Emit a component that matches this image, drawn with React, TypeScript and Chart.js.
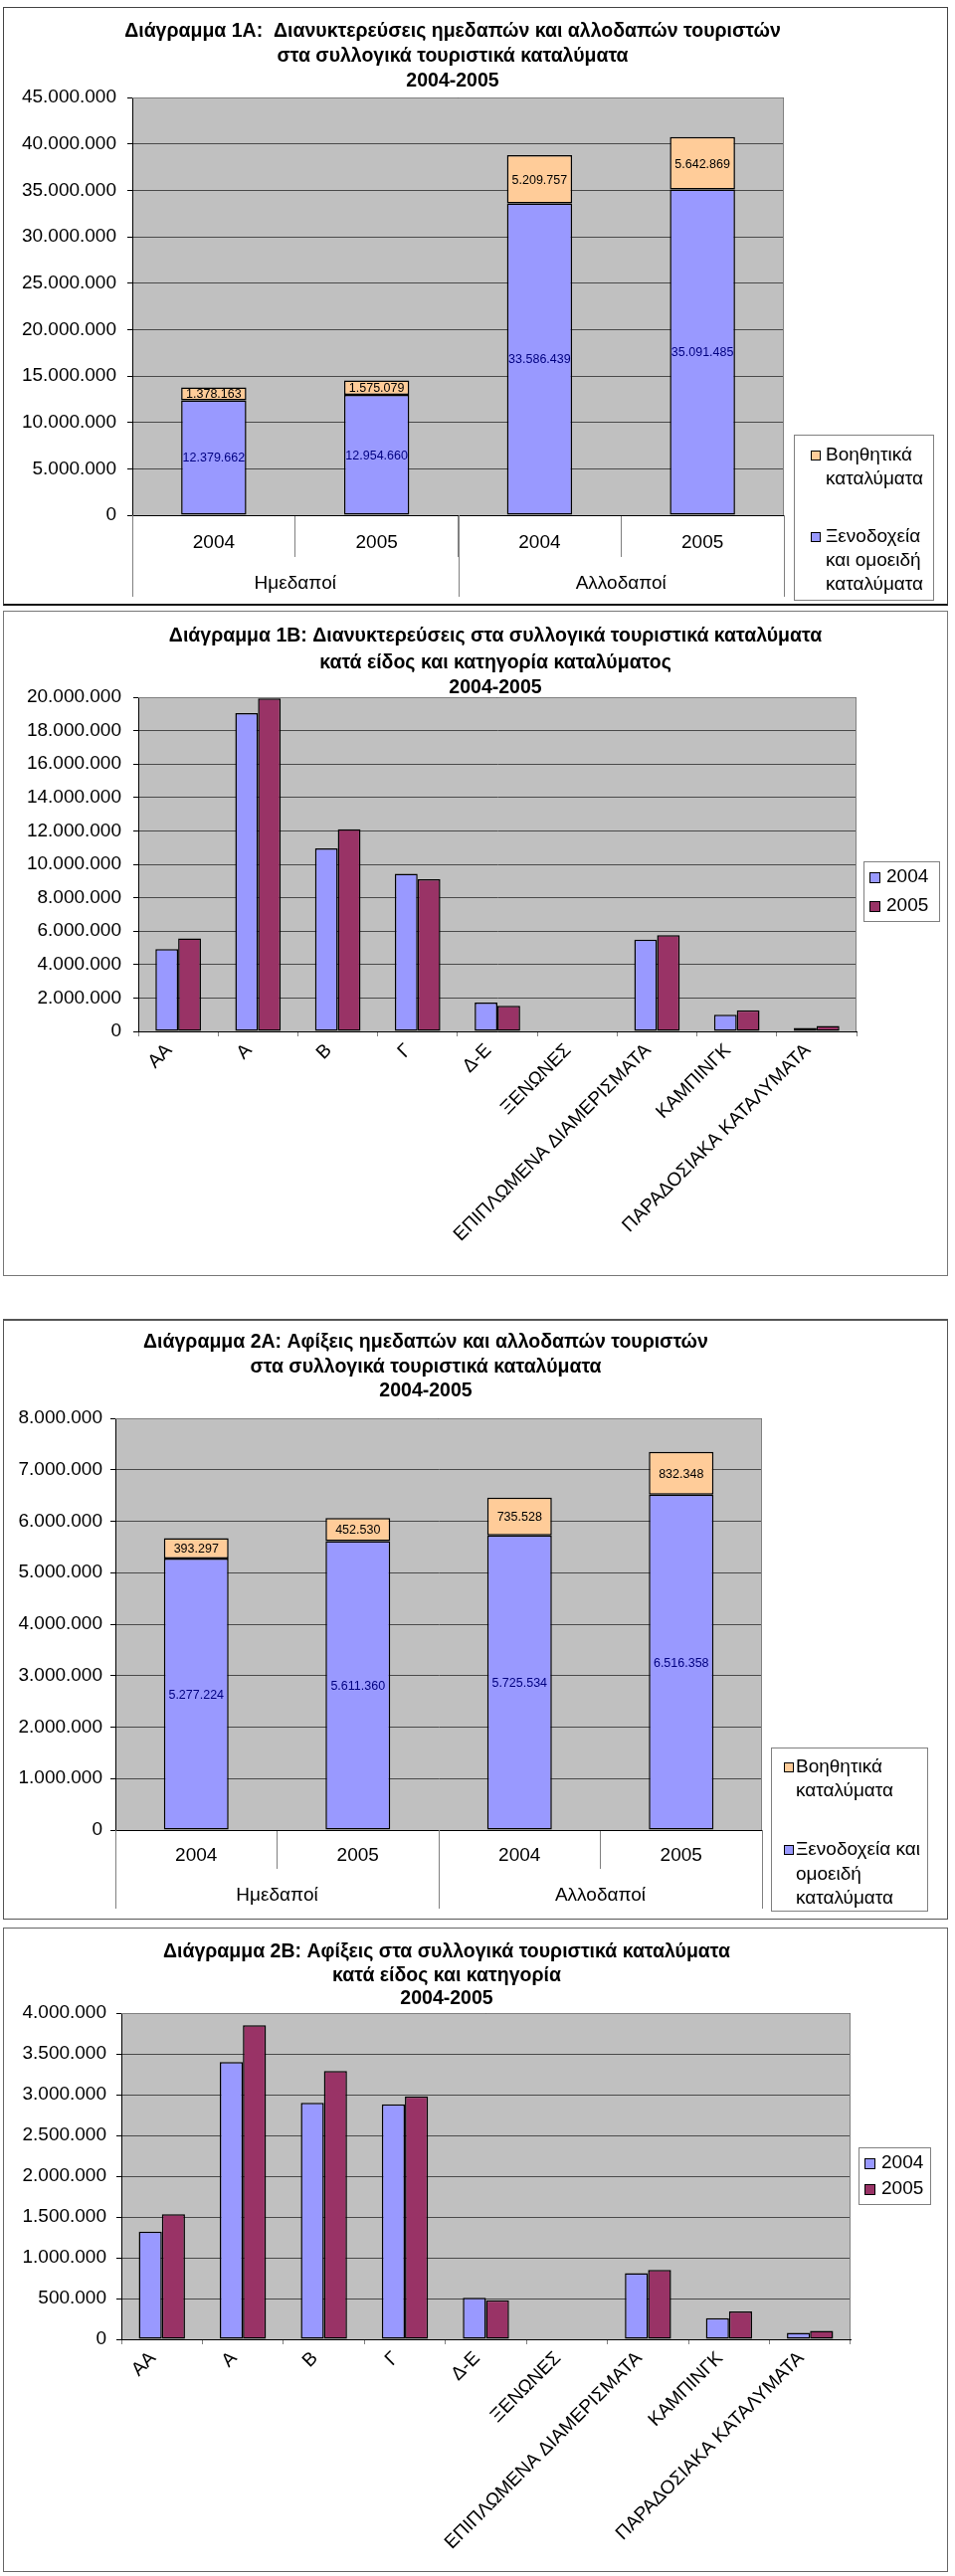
import React, { useEffect, useRef } from 'react';
import { Chart, registerables } from 'chart.js';

Chart.register(...registerables);

const FONT = "'Liberation Sans', Arial, Helvetica, sans-serif";
Chart.defaults.font.family = FONT;
Chart.defaults.color = '#000';

// ---------- data ----------
const yearLabels = ['2004', '2005', '2004', '2005'];
const groupLabels = ['Ημεδαποί', 'Αλλοδαποί'];

const overnightHotels = [12379662, 12954660, 33586439, 35091485];
const overnightAux = [1378163, 1575079, 5209757, 5642869];

const arrivalsHotels = [5277224, 5611360, 5725534, 6516358];
const arrivalsAux = [393297, 452530, 735528, 832348];

const categories = [
  'ΑΑ',
  'Α',
  'Β',
  'Γ',
  'Δ-Ε',
  'ΞΕΝΩΝΕΣ',
  'ΕΠΙΠΛΩΜΕΝΑ ΔΙΑΜΕΡΙΣΜΑΤΑ',
  'ΚΑΜΠΙΝΓΚ',
  'ΠΑΡΑΔΟΣΙΑΚΑ ΚΑΤΑΛΥΜΑΤΑ',
];
const overnight2004 = [4930000, 19050000, 10950000, 9440000, 1720000, 0, 5490000, 1000000, 210000];
const overnight2005 = [5570000, 19920000, 12100000, 9100000, 1540000, 0, 5760000, 1270000, 320000];
const arrivals2004 = [1320000, 3400000, 2900000, 2880000, 510000, 0, 810000, 260000, 80000];
const arrivals2005 = [1535000, 3850000, 3290000, 2980000, 480000, 0, 850000, 340000, 105000];

const title1A = ['Διάγραμμα 1Α:  Διανυκτερεύσεις ημεδαπών και αλλοδαπών τουριστών', 'στα συλλογικά τουριστικά καταλύματα', '2004-2005'];
const title1B = ['Διάγραμμα 1Β: Διανυκτερεύσεις στα συλλογικά τουριστικά καταλύματα', 'κατά είδος και κατηγορία καταλύματος', '2004-2005'];
const title2A = ['Διάγραμμα 2Α: Αφίξεις ημεδαπών και αλλοδαπών τουριστών', 'στα συλλογικά τουριστικά καταλύματα', '2004-2005'];
const title2B = ['Διάγραμμα 2Β: Αφίξεις στα συλλογικά τουριστικά καταλύματα', 'κατά είδος και κατηγορία', '2004-2005'];

const auxLegend = ['Βοηθητικά', 'καταλύματα'];
const hotelLegend1 = ['Ξενοδοχεία', 'και ομοειδή', 'καταλύματα'];
const hotelLegend2 = ['Ξενοδοχεία και', 'ομοειδή', 'καταλύματα'];
const yearSeries = ['2004', '2005'];

// ---------- styles ----------
const BLUE = '#9999FF';
const ORANGE = '#FFCC99';
const PLUM = '#993366';
const PLOT_BG = '#C0C0C0';
const TITLE_SIZE = 19.5;

const fmt = (n: number) => Math.round(n).toString().replace(/\B(?=(\d{3})+(?!\d))/g, '.');

type LegendItem = { color: string; lines: string[]; ys: number[] };
type Decor = {
  title: { lines: string[]; x: number; ys: number[]; size: number };
  legend: { box: [number, number, number, number]; sq: number; sqX: number; textX: number; items: LegendItem[] };
  groups?: { labels: string[]; yearY: number; groupY: number; longLen: number };
  dataLabels?: string[];
};

function makeDecor(d: Decor) {
  return {
    id: 'decor',
    beforeDraw(chart: any) {
      const { ctx, chartArea: a } = chart;
      ctx.save();
      ctx.fillStyle = PLOT_BG;
      ctx.fillRect(a.left, a.top, a.right - a.left, a.bottom - a.top);
      ctx.restore();
    },
    afterDatasetsDraw(chart: any) {
      if (!d.dataLabels) return;
      const { ctx } = chart;
      ctx.save();
      ctx.font = `12.5px ${FONT}`;
      ctx.textAlign = 'center';
      ctx.textBaseline = 'middle';
      chart.data.datasets.forEach((ds: any, i: number) => {
        const meta = chart.getDatasetMeta(i);
        meta.data.forEach((el: any, j: number) => {
          const p = el.getProps(['x', 'y', 'base'], true);
          ctx.fillStyle = d.dataLabels![i];
          ctx.fillText(fmt(ds.data[j]), p.x, (p.y + p.base) / 2 + 1);
        });
      });
      ctx.restore();
    },
    afterDraw(chart: any) {
      const { ctx, chartArea: a } = chart;
      ctx.save();
      // plot border (top & right)
      ctx.strokeStyle = '#808080';
      ctx.lineWidth = 1;
      ctx.beginPath();
      ctx.moveTo(a.left, a.top + 0.5);
      ctx.lineTo(a.right - 0.5, a.top + 0.5);
      ctx.lineTo(a.right - 0.5, a.bottom);
      ctx.stroke();

      // title
      ctx.fillStyle = '#000';
      ctx.font = `bold ${d.title.size}px ${FONT}`;
      ctx.textAlign = 'center';
      ctx.textBaseline = 'middle';
      d.title.lines.forEach((t, i) => ctx.fillText(t, d.title.x, d.title.ys[i]));

      // two-level category labels
      if (d.groups) {
        const xs = chart.scales.x;
        const n = chart.data.labels.length;
        ctx.font = `19px ${FONT}`;
        for (let i = 0; i < n; i++) {
          ctx.fillText(chart.data.labels[i], xs.getPixelForTick(i), d.groups.yearY);
        }
        d.groups.labels.forEach((g, k) => {
          const cx = (xs.getPixelForTick(2 * k) + xs.getPixelForTick(2 * k + 1)) / 2;
          ctx.fillText(g, cx, d.groups!.groupY);
        });
        const mid = (xs.getPixelForTick(1) + xs.getPixelForTick(2)) / 2;
        ctx.strokeStyle = '#808080';
        ctx.beginPath();
        [a.left, mid, a.right].forEach((px) => {
          const x = Math.round(px) + 0.5;
          ctx.moveTo(x, a.bottom);
          ctx.lineTo(x, a.bottom + d.groups!.longLen);
        });
        ctx.stroke();
      }

      // legend
      const L = d.legend;
      ctx.strokeStyle = '#808080';
      ctx.lineWidth = 1;
      ctx.strokeRect(L.box[0] + 0.5, L.box[1] + 0.5, L.box[2], L.box[3]);
      ctx.font = `19px ${FONT}`;
      ctx.textAlign = 'left';
      ctx.textBaseline = 'middle';
      L.items.forEach((it) => {
        const y0 = it.ys[0];
        ctx.fillStyle = it.color;
        ctx.fillRect(L.sqX, Math.round(y0 - L.sq / 2), L.sq, L.sq);
        ctx.strokeStyle = '#000';
        ctx.strokeRect(L.sqX + 0.5, Math.round(y0 - L.sq / 2) + 0.5, L.sq - 1, L.sq - 1);
        ctx.fillStyle = '#000';
        it.lines.forEach((t, i) => ctx.fillText(t, L.textX, it.ys[i]));
      });
      ctx.restore();
    },
  };
}

type Geo = { w: number; h: number; left: number; right: number; top: number; bottom: number };

function yAxis(max: number, step: number, pad: number, width: number, stacked: boolean) {
  return {
    stacked,
    min: 0,
    max,
    ticks: { stepSize: step, callback: (v: any) => fmt(Number(v)), font: { size: 19 }, color: '#000', padding: pad },
    grid: { color: '#4a4a4a', tickColor: '#000', tickLength: 5, lineWidth: 1 },
    border: { display: true, color: '#000', width: 1 },
    afterFit: (s: any) => {
      s.width = width;
    },
  };
}

function stackedConfig(g: Geo, hotels: number[], aux: number[], max: number, step: number, yPad: number, tickLen: number, decor: Decor) {
  return {
    type: 'bar' as const,
    data: {
      labels: yearLabels,
      datasets: [
        { label: 'Ξενοδοχεία και ομοειδή καταλύματα', data: hotels, backgroundColor: BLUE, borderColor: '#000', borderWidth: 1.5, borderSkipped: false, barPercentage: 0.4, categoryPercentage: 1 },
        { label: 'Βοηθητικά καταλύματα', data: aux, backgroundColor: ORANGE, borderColor: '#000', borderWidth: 1.5, borderSkipped: false, barPercentage: 0.4, categoryPercentage: 1 },
      ],
    },
    options: {
      animation: false as const,
      responsive: false,
      maintainAspectRatio: false,
      layout: { padding: { left: 0, right: g.w - g.right, top: g.top, bottom: 0 } },
      plugins: { legend: { display: false }, title: { display: false }, tooltip: { enabled: false } },
      scales: {
        x: {
          stacked: true,
          ticks: { display: false },
          grid: { offset: true, drawOnChartArea: false, tickLength: tickLen, color: '#808080', tickColor: '#808080' },
          border: { display: true, color: '#000', width: 1 },
          afterFit: (s: any) => {
            s.height = g.h - g.bottom;
          },
        },
        y: yAxis(max, step, yPad, g.left, true),
      },
    },
    plugins: [makeDecor(decor)],
  };
}

function groupedConfig(g: Geo, s2004: number[], s2005: number[], max: number, step: number, yPad: number, decor: Decor) {
  return {
    type: 'bar' as const,
    data: {
      labels: categories,
      datasets: [
        { label: '2004', data: s2004, backgroundColor: BLUE, borderColor: '#000', borderWidth: 1.5, borderSkipped: false, barPercentage: 1, categoryPercentage: 0.57 },
        { label: '2005', data: s2005, backgroundColor: PLUM, borderColor: '#000', borderWidth: 1.5, borderSkipped: false, barPercentage: 1, categoryPercentage: 0.57 },
      ],
    },
    options: {
      animation: false as const,
      responsive: false,
      maintainAspectRatio: false,
      layout: { padding: { left: 0, right: g.w - g.right, top: g.top, bottom: 0 } },
      plugins: { legend: { display: false }, title: { display: false }, tooltip: { enabled: false } },
      scales: {
        x: {
          ticks: { autoSkip: false, minRotation: 45, maxRotation: 45, font: { size: 19 }, color: '#000', padding: 3, labelOffset: -9 },
          grid: { offset: true, drawOnChartArea: false, tickLength: 5, color: '#808080', tickColor: '#808080' },
          border: { display: true, color: '#000', width: 1 },
          afterFit: (s: any) => {
            s.height = g.h - g.bottom;
          },
        },
        y: yAxis(max, step, yPad, g.left, false),
      },
    },
    plugins: [makeDecor(decor)],
  };
}

function ChartBox({ rect, frame, build }: { rect: [number, number, number, number]; frame: React.CSSProperties; build: () => any }) {
  const ref = useRef<HTMLCanvasElement>(null);
  useEffect(() => {
    const chart = new Chart(ref.current as HTMLCanvasElement, build());
    return () => chart.destroy();
  }, []);
  const [x, y, w, h] = rect;
  return (
    <>
      <div style={{ position: 'absolute', left: x, top: y, width: w, height: h, boxSizing: 'border-box', ...frame }} />
      <canvas ref={ref} width={w} height={h} style={{ position: 'absolute', left: x, top: y, width: w, height: h }} />
    </>
  );
}

export default function App() {
  const g1A: Geo = { w: 950, h: 602, left: 130, right: 785, top: 91, bottom: 511 };
  const g1B: Geo = { w: 950, h: 669, left: 136, right: 858, top: 87, bottom: 423 };
  const g2A: Geo = { w: 950, h: 604, left: 113, right: 763, top: 100, bottom: 514 };
  const g2B: Geo = { w: 950, h: 648, left: 119, right: 852, top: 86, bottom: 414 };

  return (
    <div style={{ position: 'absolute', left: 0, top: 0, width: 960, height: 2590, background: '#fff', fontFamily: FONT }}>
      <ChartBox
        rect={[3, 7, 950, 602]}
        frame={{ border: '1px solid #444', borderBottom: '2px solid #111' }}
        build={() =>
          stackedConfig(g1A, overnightHotels, overnightAux, 45000000, 5000000, 11, 42, {
            title: { lines: title1A, x: 452, ys: [25, 50, 75], size: TITLE_SIZE },
            legend: {
              box: [795, 430, 140, 166],
              sq: 10,
              sqX: 812,
              textX: 827,
              items: [
                { color: ORANGE, lines: auxLegend, ys: [451, 475] },
                { color: BLUE, lines: hotelLegend1, ys: [533, 557, 581] },
              ],
            },
            groups: { labels: groupLabels, yearY: 539, groupY: 580, longLen: 82 },
            dataLabels: ['#000080', '#000'],
          })
        }
      />
      <ChartBox
        rect={[3, 614, 950, 669]}
        frame={{ border: '1px solid #777' }}
        build={() =>
          groupedConfig(g1B, overnight2004, overnight2005, 20000000, 2000000, 12, {
            title: { lines: title1B, x: 495, ys: [26, 53, 78], size: TITLE_SIZE },
            legend: {
              box: [865, 252, 76, 60],
              sq: 11,
              sqX: 871,
              textX: 888,
              items: [
                { color: BLUE, lines: [yearSeries[0]], ys: [268] },
                { color: PLUM, lines: [yearSeries[1]], ys: [297] },
              ],
            },
          })
        }
      />
      <ChartBox
        rect={[3, 1326, 950, 604]}
        frame={{ border: '1px solid #555', borderTop: '2px solid #555' }}
        build={() =>
          stackedConfig(g2A, arrivalsHotels, arrivalsAux, 8000000, 1000000, 8, 39, {
            title: { lines: title2A, x: 425, ys: [24, 49, 73], size: TITLE_SIZE },
            legend: {
              box: [772, 431, 157, 164],
              sq: 10,
              sqX: 785,
              textX: 797,
              items: [
                { color: ORANGE, lines: auxLegend, ys: [451, 475] },
                { color: BLUE, lines: hotelLegend2, ys: [534, 559, 583] },
              ],
            },
            groups: { labels: groupLabels, yearY: 540, groupY: 580, longLen: 79 },
            dataLabels: ['#000080', '#000'],
          })
        }
      />
      <ChartBox
        rect={[3, 1938, 950, 648]}
        frame={{ border: '1px solid #666' }}
        build={() =>
          groupedConfig(g2B, arrivals2004, arrivals2005, 4000000, 500000, 10, {
            title: { lines: title2B, x: 446, ys: [25, 49, 72], size: TITLE_SIZE },
            legend: {
              box: [860, 221, 72, 57],
              sq: 11,
              sqX: 866,
              textX: 883,
              items: [
                { color: BLUE, lines: [yearSeries[0]], ys: [237] },
                { color: PLUM, lines: [yearSeries[1]], ys: [263] },
              ],
            },
          })
        }
      />
    </div>
  );
}
